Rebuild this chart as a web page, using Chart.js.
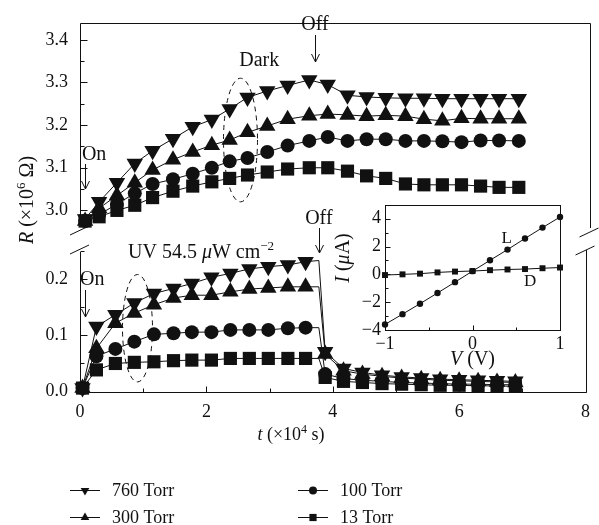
<!DOCTYPE html>
<html>
<head>
<meta charset="utf-8">
<script src="https://cdn.jsdelivr.net/npm/chart.js@4.4.1/dist/chart.umd.min.js"></script>
<style>
  html, body { margin: 0; padding: 0; background: #fff; }
  #wrap { position: relative; width: 599px; height: 525px; }
  #wrap canvas { position: absolute; }
</style>
</head>
<body>
<div id="wrap">
  <canvas id="darkChart" width="599" height="525" style="left:0;top:0"></canvas>
  <canvas id="uvChart" width="599" height="525" style="left:0;top:0"></canvas>
  <canvas id="ivChart" width="240" height="185" style="left:330px;top:190px"></canvas>
</div>
<script>
// ─── data: dark resistance (×10^6 Ω) ─────────────────────────────
const tDark = [0.08, 0.3, 0.58, 0.86, 1.14, 1.46, 1.77, 2.07, 2.35, 2.63, 2.94, 3.26,
               3.6, 3.89, 4.2, 4.5, 4.8, 5.11, 5.4, 5.69, 5.99, 6.29, 6.58, 6.89];
const dark760 = [2.98, 3.02, 3.065, 3.11, 3.14, 3.168, 3.196, 3.213, 3.238, 3.265, 3.28, 3.293,
                 3.306, 3.295, 3.27, 3.266, 3.264, 3.263, 3.263, 3.262, 3.262, 3.262, 3.262, 3.262];
const dark300 = [2.975, 3.005, 3.035, 3.065, 3.095, 3.119, 3.137, 3.153, 3.165, 3.183, 3.198, 3.214,
                 3.222, 3.226, 3.224, 3.221, 3.223, 3.221, 3.214, 3.21, 3.216, 3.215, 3.215, 3.215];
const dark100 = [2.975, 2.99, 3.015, 3.04, 3.062, 3.073, 3.086, 3.1, 3.115, 3.123, 3.137, 3.152,
                 3.163, 3.172, 3.163, 3.167, 3.167, 3.163, 3.163, 3.162, 3.16, 3.164, 3.164, 3.163];
const dark13 = [2.975, 2.985, 3.0, 3.012, 3.03, 3.045, 3.057, 3.067, 3.075, 3.083, 3.09, 3.097,
                3.1, 3.1, 3.092, 3.081, 3.075, 3.062, 3.06, 3.06, 3.06, 3.057, 3.054, 3.054];

// ─── data: resistance under UV (×10^6 Ω) ─────────────────────────
const tUv = [0.04, 0.26, 0.56, 0.86, 1.17, 1.48, 1.77, 2.08, 2.38, 2.68, 2.98, 3.29, 3.57,
             3.78, 3.88, 4.17, 4.47, 4.78, 5.09, 5.4, 5.7, 6.0, 6.3, 6.6, 6.89];
const offIndex = 13; // lamp switched off here, line only
const uv760 = [0.005, 0.115, 0.136, 0.157, 0.174, 0.183, 0.192, 0.203, 0.21, 0.218, 0.222, 0.225, 0.231,
               0.233, 0.07, 0.04, 0.033, 0.028, 0.025, 0.023, 0.021, 0.02, 0.019, 0.018, 0.017];
const uv300 = [0.005, 0.076, 0.121, 0.139, 0.154, 0.166, 0.171, 0.171, 0.177, 0.182, 0.184, 0.186, 0.186,
               0.186, 0.066, 0.036, 0.03, 0.026, 0.023, 0.021, 0.019, 0.018, 0.017, 0.016, 0.015];
const uv100 = [0.005, 0.062, 0.075, 0.088, 0.101, 0.103, 0.105, 0.105, 0.109, 0.109, 0.109, 0.112, 0.113,
               0.113, 0.03, 0.022, 0.019, 0.017, 0.015, 0.014, 0.013, 0.012, 0.012, 0.011, 0.011];
const uv13 = [0.005, 0.0375, 0.049, 0.051, 0.052, 0.054, 0.055, 0.055, 0.058, 0.058, 0.058, 0.058, 0.058,
              0.058, 0.024, 0.017, 0.015, 0.013, 0.012, 0.011, 0.01, 0.01, 0.009, 0.009, 0.008];

// ─── data: inset I-V ─────────────────────────────────────────────
const vBias = [-1, -0.8, -0.6, -0.4, -0.2, 0, 0.2, 0.4, 0.6, 0.8, 1];
const iLight = [-3.6, -2.86, -2.11, -1.34, -0.56, 0.23, 1.01, 1.78, 2.58, 3.36, 4.12];
const iDark = [-0.05, 0, 0.05, 0.14, 0.2, 0.24, 0.3, 0.35, 0.38, 0.44, 0.49];

const pressures = ["760 Torr", "300 Torr", "100 Torr", "13 Torr"];

// ─── style ───────────────────────────────────────────────────────
const INK = "#111";
const SERIF = '"Liberation Serif", "DejaVu Serif", serif';
const marks = [
  { style: "triangle", rotation: 180, radius: 9.5 },
  { style: "triangle", rotation: 0, radius: 9.5 },
  { style: "circle", rotation: 0, radius: 7 },
  { style: "rect", rotation: 0, radius: 9.3 },
];

function series(label, xs, ys, mk, skip) {
  return {
    label,
    data: xs.map((x, i) => ({ x, y: ys[i] })),
    borderColor: INK, backgroundColor: INK, borderWidth: 1,
    pointStyle: mk.style, rotation: mk.rotation,
    pointRadius: xs.map((_, i) => (i === skip ? 0 : mk.radius)),
    pointBorderWidth: 0, tension: 0, clip: false,
  };
}

// ─── drawing helpers ─────────────────────────────────────────────
const px = (v) => Math.round(v) + 0.5;
function line(ctx, x1, y1, x2, y2) {
  ctx.beginPath(); ctx.moveTo(x1, y1); ctx.lineTo(x2, y2); ctx.stroke();
}
function slash(ctx, x, y) { line(ctx, x - 10, y + 5, x + 9, y - 4); }
function arrow(ctx, x, y1, y2) {
  line(ctx, x, y1, x, y2);
  ctx.beginPath(); ctx.moveTo(x - 4, y2 - 8); ctx.lineTo(x, y2); ctx.lineTo(x + 4, y2 - 8); ctx.stroke();
}
function ellipse(ctx, cx, cy, rx, ry) {
  ctx.setLineDash([5, 4]);
  ctx.beginPath(); ctx.ellipse(cx, cy, rx, ry, 0, 0, Math.PI * 2); ctx.stroke();
  ctx.setLineDash([]);
}
// runs: [text, size, italic, dy]
function runs(ctx, parts, x, y, align) {
  const font = (p) => `${p[2] ? "italic " : ""}${p[1]}px ${SERIF}`;
  let w = 0;
  parts.forEach(p => { ctx.font = font(p); w += ctx.measureText(p[0]).width; });
  let cx = align === "center" ? x - w / 2 : x;
  ctx.textAlign = "left"; ctx.textBaseline = "alphabetic";
  parts.forEach(p => {
    ctx.font = font(p); ctx.fillText(p[0], cx, y + (p[3] || 0));
    cx += ctx.measureText(p[0]).width;
  });
}
function leftTicks(ctx, scale, x0, step, major, minor) {
  const first = Math.ceil(scale.min / step - 1e-9);
  for (let k = first; k * step <= scale.max + 1e-9; k++) {
    const isMajor = k % 2 === 0;
    const y = px(scale.getPixelForValue(k * step));
    line(ctx, x0, y, x0 + (isMajor ? major : minor), y);
  }
}
function bottomTicks(ctx, scale, y0, step, major, minor) {
  const first = Math.ceil(scale.min / step - 1e-9);
  for (let k = first; k * step <= scale.max + 1e-9; k++) {
    const x = px(scale.getPixelForValue(k * step));
    line(ctx, x, y0, x, y0 - (k % 2 === 0 ? major : minor));
  }
}
function legendMark(ctx, mk, x, y, r) {
  ctx.beginPath();
  if (mk.style === "circle") ctx.arc(x, y, r, 0, Math.PI * 2);
  else if (mk.style === "rect") ctx.rect(x - r * 0.72, y - r * 0.72, r * 1.44, r * 1.44);
  else {
    const s = mk.rotation ? -1 : 1;
    ctx.moveTo(x, y - s * r); ctx.lineTo(x + 0.87 * r, y + s * r / 2); ctx.lineTo(x - 0.87 * r, y + s * r / 2);
    ctx.closePath();
  }
  ctx.fill();
}

const tickFont = { family: SERIF, size: 18 };
const noGrid = { display: false, drawTicks: false };

// ─── top panel: dark ─────────────────────────────────────────────
const darkDecor = {
  id: "darkDecor",
  afterDraw(chart) {
    const { ctx, chartArea: a, scales: { x, y } } = chart;
    ctx.save();
    ctx.strokeStyle = INK; ctx.fillStyle = INK; ctx.lineWidth = 1;
    const L = px(a.left), R = px(a.right), T = px(a.top);
    line(ctx, L, a.bottom - 4, L, T);
    line(ctx, L, T, R, T);
    line(ctx, R, T, R, a.bottom - 2);
    slash(ctx, a.left, a.bottom);
    slash(ctx, a.right, a.bottom + 2);
    leftTicks(ctx, y, L, 0.05, 7, 4);

    // On / Off / Dark
    runs(ctx, [["On", 20]], x.getPixelForValue(0.03), 160, "left");
    arrow(ctx, px(x.getPixelForValue(0.08)), 164, 189);
    runs(ctx, [["Off", 20]], x.getPixelForValue(3.69), 30, "center");
    arrow(ctx, px(x.getPixelForValue(3.69)), 35, 62);
    runs(ctx, [["Dark", 20]], x.getPixelForValue(2.5), 66, "left");
    ellipse(ctx, x.getPixelForValue(2.52), (y.getPixelForValue(3.31) + y.getPixelForValue(3.02)) / 2,
            17, (y.getPixelForValue(3.02) - y.getPixelForValue(3.31)) / 2);

    // y title, rotated
    ctx.translate(33, 200);
    ctx.rotate(-Math.PI / 2);
    runs(ctx, [["R", 20, true], [" (×10", 20], ["6", 13, false, -8], [" Ω)", 20]], 0, 0, "center");
    ctx.restore();
  }
};

new Chart(document.getElementById("darkChart"), {
  type: "line",
  data: {
    datasets: [
      series(pressures[0], tDark, dark760, marks[0]),
      series(pressures[1], tDark, dark300, marks[1]),
      series(pressures[2], tDark, dark100, marks[2]),
      series(pressures[3], tDark, dark13, marks[3]),
    ]
  },
  options: {
    responsive: false, animation: false, devicePixelRatio: 1,
    layout: { padding: { top: 9, right: 8, bottom: 295, left: 0 } },
    plugins: { legend: { display: false }, tooltip: { enabled: false } },
    scales: {
      x: { type: "linear", min: 0, max: 8, display: false },
      y: {
        min: 2.954, max: 3.44,
        afterFit: s => { s.width = 80; },
        grid: noGrid, border: { display: false },
        ticks: { stepSize: 0.1, includeBounds: false, padding: 12, color: INK, font: tickFont,
                 callback: v => v.toFixed(1) }
      }
    }
  },
  plugins: [darkDecor]
});

// ─── bottom panel: UV ────────────────────────────────────────────
const uvDecor = {
  id: "uvDecor",
  afterDraw(chart) {
    const { ctx, chartArea: a, scales: { x, y } } = chart;
    ctx.save();
    ctx.strokeStyle = INK; ctx.fillStyle = INK; ctx.lineWidth = 1;
    const L = px(a.left), R = px(a.right), B = px(a.bottom);
    line(ctx, L, a.top + 3, L, B);
    line(ctx, L, B, R, B);
    line(ctx, R, B, R, a.top + 1);
    slash(ctx, a.left, a.top);
    slash(ctx, a.right, a.top + 1);
    leftTicks(ctx, y, L, 0.05, 7, 4);
    bottomTicks(ctx, x, B, 1, 6, 4);

    runs(ctx, [["On", 20]], x.getPixelForValue(0.0), 285, "left");
    arrow(ctx, px(x.getPixelForValue(0.08)), 290, 317);
    runs(ctx, [["Off", 20]], x.getPixelForValue(3.78), 224, "center");
    arrow(ctx, px(x.getPixelForValue(3.78)), 228, 253);
    runs(ctx, [["UV 54.5 ", 20], ["μ", 20, true], ["W cm", 20], ["−2", 13, false, -8]], 128, 258, "left");
    ellipse(ctx, x.getPixelForValue(0.91), (y.getPixelForValue(0.208) + y.getPixelForValue(0.016)) / 2,
            15, (y.getPixelForValue(0.016) - y.getPixelForValue(0.208)) / 2);

    // x title
    runs(ctx, [["t", 18, true], [" (×10", 18], ["4", 12, false, -7], [" s)", 18]], 291, 440, "center");

    // legend
    const cols = [70, 298], rows = [490, 517];
    const order = [[0, 0, 0], [2, 1, 0], [1, 0, 1], [3, 1, 1]];
    order.forEach(([si, c, r]) => {
      const x0 = cols[c], yy = rows[r] + 0.5;
      line(ctx, x0, yy, x0 + 30, yy);
      legendMark(ctx, marks[si], x0 + 15, yy, marks[si].style === "circle" ? 4 : 5);
      ctx.font = `18px ${SERIF}`; ctx.textAlign = "left"; ctx.textBaseline = "middle";
      ctx.fillText(pressures[si], x0 + 42, rows[r] + 1);
    });
    ctx.restore();
  }
};

new Chart(document.getElementById("uvChart"), {
  type: "line",
  data: {
    datasets: [
      series(pressures[0], tUv, uv760, marks[0], offIndex),
      series(pressures[1], tUv, uv300, marks[1], offIndex),
      series(pressures[2], tUv, uv100, marks[2], offIndex),
      series(pressures[3], tUv, uv13, marks[3], offIndex),
    ]
  },
  options: {
    responsive: false, animation: false, devicePixelRatio: 1,
    layout: { padding: { top: 249, right: 8, bottom: 0, left: 0 } },
    plugins: { legend: { display: false }, tooltip: { enabled: false } },
    scales: {
      x: {
        type: "linear", min: 0, max: 8,
        afterFit: s => { s.height = 133; },
        grid: noGrid, border: { display: false },
        ticks: { stepSize: 2, padding: 9, color: INK, font: tickFont, maxRotation: 0 }
      },
      y: {
        min: -0.002, max: 0.2536,
        afterFit: s => { s.width = 80; },
        grid: noGrid, border: { display: false },
        ticks: { stepSize: 0.1, includeBounds: false, padding: 12, color: INK, font: tickFont,
                 callback: v => v.toFixed(1) }
      }
    }
  },
  plugins: [uvDecor]
});

// ─── inset: I-V ──────────────────────────────────────────────────
const ivDecor = {
  id: "ivDecor",
  afterDraw(chart) {
    const { ctx, chartArea: a, scales: { x, y } } = chart;
    ctx.save();
    ctx.strokeStyle = INK; ctx.fillStyle = INK; ctx.lineWidth = 1;
    ctx.strokeRect(px(a.left), px(a.top), Math.round(a.right - a.left), Math.round(a.bottom - a.top));
    leftTicks(ctx, y, px(a.left), 1, 5, 3);
    bottomTicks(ctx, x, px(a.bottom), 0.5, 5, 3);
    ctx.font = `17px ${SERIF}`; ctx.textAlign = "center"; ctx.textBaseline = "middle";
    ctx.fillText("L", x.getPixelForValue(0.39), y.getPixelForValue(2.6));
    ctx.fillText("D", x.getPixelForValue(0.66), y.getPixelForValue(-0.5));
    runs(ctx, [["V", 20, true], [" (V)", 20]], (a.left + a.right) / 2, 175, "center");
    ctx.translate(19, 68);
    ctx.rotate(-Math.PI / 2);
    runs(ctx, [["I", 20, true], [" (", 20], ["μ", 20, true], ["A)", 20]], 0, 0, "center");
    ctx.restore();
  }
};

const ivSet = (label, ys, style, r) => ({
  label, data: vBias.map((v, i) => ({ x: v, y: ys[i] })),
  borderColor: INK, backgroundColor: INK, borderWidth: 1,
  pointStyle: style, pointRadius: r, pointBorderWidth: 0, tension: 0, clip: false,
});

new Chart(document.getElementById("ivChart"), {
  type: "line",
  data: { datasets: [ivSet("L", iLight, "circle", 3.2), ivSet("D", iDark, "rect", 4.2)] },
  options: {
    responsive: false, animation: false, devicePixelRatio: 1,
    layout: { padding: { top: 12, right: 10, bottom: 0, left: 0 } },
    plugins: { legend: { display: false }, tooltip: { enabled: false } },
    scales: {
      x: {
        type: "linear", min: -1, max: 1,
        afterFit: s => { s.height = 45; },
        grid: noGrid, border: { display: false },
        ticks: { stepSize: 1, padding: 3, color: INK, font: tickFont, maxRotation: 0,
                 callback: v => (v < 0 ? "−" + Math.abs(v) : String(v)) }
      },
      y: {
        min: -4, max: 5,
        afterFit: s => { s.width = 55; },
        grid: noGrid, border: { display: false },
        ticks: { stepSize: 2, includeBounds: false, padding: 4, color: INK, font: tickFont,
                 callback: v => (v < 0 ? "−" + Math.abs(v) : String(v)) }
      }
    }
  },
  plugins: [ivDecor]
});
</script>
</body>
</html>
